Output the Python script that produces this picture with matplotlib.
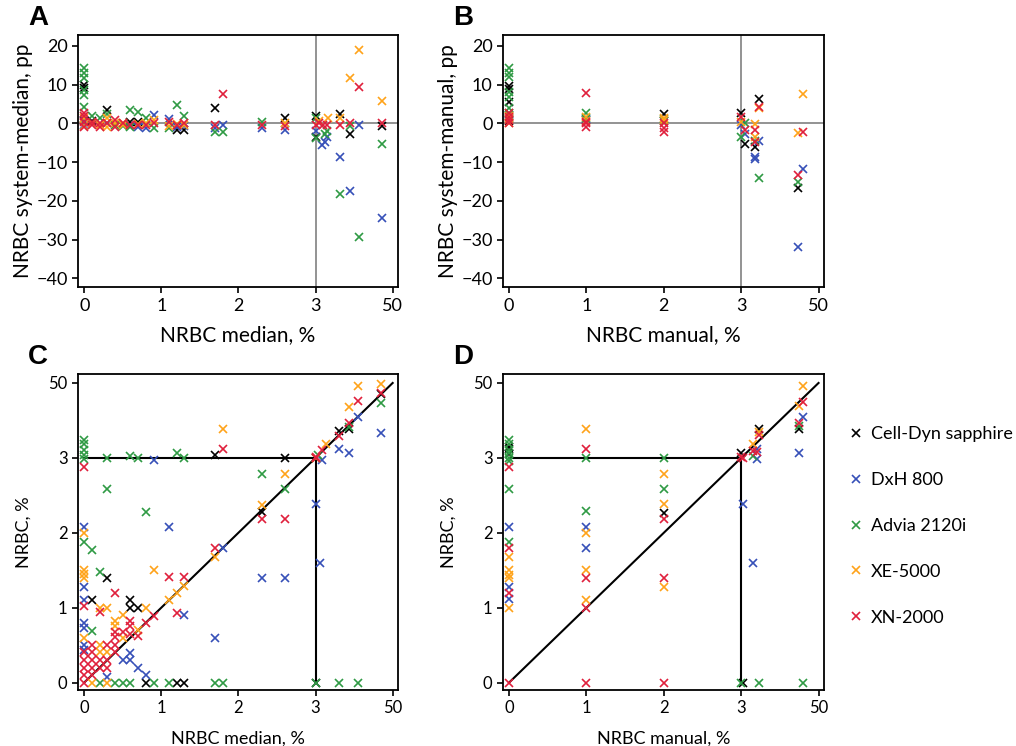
import numpy as np
import matplotlib
matplotlib.use('Agg')
import matplotlib.pyplot as plt

# NRBC comparison of 5 analysers vs. median / manual count
# x axis (and y axis in C, D) is linear 0-3 % and squeezed 3-50 % into one unit

instruments = ['Cell-Dyn sapphire', 'DxH 800', 'Advia 2120i', 'XE-5000', 'XN-2000']
colors = ['black', '#3650b8', '#2f9a44', '#ffa31a', '#e0203c']

# ---- panel A : system - median (pp) vs median (%)
a_black_x = [0, 0, 0, 0.1, 0.3, 0.6, 0.7, 1.2, 1.3, 1.7, 2.6, 3.0, 3.0, 18, 23.8, 43.3]
a_black_y = [9.9, 9.1, 0.5, 0.5, 3.5, 0.4, 0.4, -1.7, -1.7, 3.9, 1.3, 1.9, -3.6, 2.4, -2.8, -0.6]
a_blue_x = [0, 0, 0.1, 0.3, 0.5, 0.6, 0.7, 0.8, 0.9, 1.1, 1.2, 1.3, 1.7, 1.8, 2.3, 2.6,
            3.5, 6.8, 8.6, 10, 18, 23.8, 29.3, 43.3]
a_blue_y = [0.8, -0.3, 0, 0, -0.3, -0.5, -0.9, -1.3, 2.2, 1.1, -0.9, -0.7, -1.3, -0.3, -1.3, -1.7,
            -2, -5.6, -4.7, -3.6, -8.6, -17.4, -0.4, -24.4]
a_green_x = [0, 0, 0, 0, 0, 0, 0.1, 0.2, 0.3, 0.4, 0.5, 0.6, 0.6, 0.7, 0.8, 0.9, 1.1, 1.2, 1.3,
             1.7, 1.8, 2.3, 3.0, 3.5, 8.6, 10, 18, 23.8, 29.3, 43.3]
a_green_y = [14.2, 13, 11.7, 8.6, 7.3, 4.3, 1.9, 1.3, 2.5, -0.5, -0.8, 3.5, -0.9, 3.0, 1.3, -1.3, -1.3, 4.7, 1.9,
             -2.2, -2.2, 0.4, 1.5, -3.9, -2.8, -2, -18.3, -0.6, -29.4, -5.4]
a_orange_x = [0, 0, 0.1, 0.2, 0.3, 0.3, 0.4, 0.5, 0.5, 0.7, 0.8, 0.9, 1.1, 1.2, 1.3, 2.6,
              5.4, 10.5, 18, 23.8, 29.3, 43.3]
a_orange_y = [1.3, -0.7, 0, -0.3, 1.3, -0.9, 0, 0, -0.4, -0.2, 0, 0.9, -0.7, -0.2, -0.3, 0,
              0.5, 1.3, 1.3, 11.8, 19, 5.8]
a_red_x = [0, 0, 0, 0, 0.1, 0.1, 0.2, 0.2, 0.3, 0.4, 0.4, 0.5, 0.6, 0.7, 0.8, 0.9, 1.1, 1.2, 1.3,
           1.7, 1.8, 2.3, 2.6, 3.0, 5.4, 7.7, 10, 18, 23.8, 29.3, 43.3]
a_red_y = [2.6, 1.8, 0.4, -0.9, 0.4, -0.5, 0, -0.9, 0, 0.9, -0.9, 0.2, -0.4, -0.3, -0.4, 0, 0.4, -0.3, 0,
           -0.4, 7.5, -0.4, -0.7, -0.5, 0, -0.3, -0.5, -0.4, 0, 9.5, 0]

# ---- panel B : system - manual (pp) vs manual (%)
b_black_x = [0, 0, 0, 0, 2, 3, 5.4, 11.5, 13.8, 37.3]
b_black_y = [9.7, 8.8, 5.4, 0.5, 2.3, 2.8, -5.4, -6, 6.3, -16.8]
b_blue_x = [0, 0, 0, 1, 1, 3, 5.4, 11.5, 11.5, 13.8, 37.3, 40.6]
b_blue_y = [2.1, 1.3, 1.1, 1.1, 0.8, -0.4, -2.8, -8.6, -9.2, -4.5, -31.8, -11.9]
b_green_x = [0, 0, 0, 0, 0, 0, 0, 0, 1, 1, 2, 2, 3, 5.4, 11.5, 13.8, 37.3]
b_green_y = [14.2, 13.1, 11.9, 8.2, 6.9, 3.9, 2.6, 1.9, 2.6, 1.3, 1.0, 0.6, -3.5, 0, -4.5, -14.1, -15.1]
b_orange_x = [0, 0, 0, 0, 0, 1, 1, 2, 2, 3, 11.5, 11.5, 13.8, 37.3, 40.6]
b_orange_y = [2.0, 1.7, 1.5, 1.0, 0.2, 1.6, 0.5, 1.3, 0.8, 0.4, -0.2, -3.5, 3.9, -2.4, 7.5]
b_red_x = [0, 0, 0, 0, 1, 1, 1, 1, 2, 2, 2, 3, 5.4, 11.5, 11.5, 13.8, 37.3, 40.6]
b_red_y = [2.6, 1.7, 0.9, 0, 7.9, 0.4, 0, -1.0, 0, -1.3, -2.2, 1.7, -1.7, -1.6, -4.7, 4.3, -13.4, -2.2]

# ---- panel C : system (%) vs median (%)
c_black_x = [0.1, 0.3, 0.6, 0.6, 0.7, 0.8, 1.2, 1.3, 1.7, 2.3, 2.6, 3.0, 3.0, 17.6, 23.2, 43]
c_black_y = [1.1, 1.4, 1.1, 1.0, 1.0, 0, 0, 0, 4.9, 2.28, 3.0, 3.0, 0, 19.9, 20.9, 43]
c_blue_x = [0, 0, 0, 0, 0, 0, 0, 0.3, 0.5, 0.6, 0.6, 0.7, 0.8, 0.9, 1.1, 1.3, 1.7, 1.8, 2.3, 2.6,
            3.0, 5.6, 7.2, 17.6, 23.2, 28.9, 43]
c_blue_y = [2.08, 1.28, 1.1, 0.8, 0.73, 0.5, 0.44, 0.08, 0.3, 0.39, 0.3, 0.19, 0.1, 2.97, 2.08, 0.9, 0.6, 1.79,
            1.4, 1.4, 2.38, 1.6, 2.97, 8.6, 5.8, 28.4, 18.5]
c_green_x = [0, 0, 0, 0, 0, 0, 0.1, 0.1, 0.2, 0.2, 0.3, 0.3, 0.4, 0.5, 0.6, 0.6, 0.7, 0.8, 0.9, 1.1,
             1.2, 1.3, 1.7, 1.8, 2.3, 2.6, 3.0, 3.0, 4.4, 17.6, 23.2, 28.9, 43]
c_green_y = [14.3, 11.5, 8.2, 4.9, 2.98, 1.88, 1.77, 0.69, 1.48, 0, 3.0, 2.58, 0, 0, 3.9, 0, 3.0, 2.28, 0, 0,
             5.8, 3.0, 0, 0, 2.78, 2.58, 0, 3.0, 4.6, 0, 22.3, 0, 37.3]
c_orange_x = [0, 0, 0, 0, 0, 0.1, 0.2, 0.2, 0.2, 0.3, 0.3, 0.3, 0.4, 0.4, 0.5, 0.5, 0.7, 0.8, 0.9, 1.1,
              1.2, 1.3, 1.7, 1.8, 2.3, 2.6, 3.0, 9.1, 23.2, 28.9, 43]
c_orange_y = [2.0, 1.5, 1.45, 1.4, 0.6, 0, 1.0, 0.5, 0.41, 1.0, 0.41, 0, 0.82, 0.75, 0.9, 0.6, 0.7, 1.0, 1.5, 1.1,
              1.19, 1.29, 1.68, 20.9, 2.37, 2.78, 3.0, 11.5, 35, 48.1, 49.1]
c_red_x = [0, 0, 0, 0, 0, 0, 0, 0.1, 0.1, 0.1, 0.1, 0.1, 0.2, 0.2, 0.2, 0.3, 0.3, 0.3, 0.4, 0.4, 0.4, 0.4,
           0.4, 0.5, 0.6, 0.6, 0.6, 0.7, 0.8, 0.9, 1.1, 1.2, 1.3, 1.7, 1.8, 2.3, 2.6, 3.0, 3.5, 7.2,
           17.6, 23.2, 28.9, 43]
c_red_y = [2.88, 1.02, 0.41, 0.3, 0.19, 0.1, 0, 0.5, 0.41, 0.3, 0.19, 0.1, 0.94, 0.3, 0.19, 0.5, 0.3, 0.19,
           1.19, 0.68, 0.61, 0.5, 0.41, 0.68, 0.82, 0.75, 0.65, 0.62, 0.8, 0.89, 1.41, 0.93, 1.41, 1.79, 8.6,
           2.18, 2.18, 3.0, 3.6, 8.2, 16.6, 24.6, 38.7, 43.9]

# ---- panel D : system (%) vs manual (%)
d_black_x = [0, 0, 0, 2, 3, 4.4, 13.8, 38.3]
d_black_y = [9.7, 8.8, 5.4, 2.27, 5.8, 0, 20.9, 20.9]
d_blue_x = [0, 0, 0, 1, 1, 4.4, 10, 12.4, 12.4, 38.3, 40.6]
d_blue_y = [2.08, 1.27, 1.11, 2.08, 1.79, 2.38, 1.6, 8.6, 2.98, 5.8, 28.6]
d_green_x = [0, 0, 0, 0, 0, 0, 0, 0, 1, 1, 2, 2, 3, 10, 13.8, 38.3, 40.6]
d_green_y = [14.3, 11.5, 8.2, 5.8, 3.0, 2.96, 2.58, 1.88, 3.0, 2.29, 3.0, 2.58, 0, 3.9, 0, 22.7, 0]
d_orange_x = [0, 0, 0, 0, 0, 1, 1, 1, 1, 2, 2, 2, 10, 13.8, 38.3, 40.6]
d_orange_y = [1.68, 1.5, 1.44, 1.39, 1.0, 20.9, 2.0, 1.5, 1.1, 2.78, 2.38, 1.27, 11.5, 19, 35.4, 48.1]
d_red_x = [0, 0, 0, 0, 1, 1, 1, 1, 2, 2, 2, 3, 4.4, 10, 12.4, 13.8, 38.3, 40.6]
d_red_y = [2.88, 1.79, 1.19, 0, 8.6, 1.39, 1.0, 0, 2.18, 1.39, 0, 3.5, 3.0, 7.2, 6.8, 17.6, 25.1, 38.3]

nrbc_ticks = [0, 1, 2, 3, 50]
diff_ticks = [-40, -30, -20, -10, 0, 10, 20]


def fwd(v):
    v = np.asarray(v, dtype=float)
    return np.where(v <= 3, v, 3 + (v - 3) / 47.0)


def inv(p):
    p = np.asarray(p, dtype=float)
    return np.where(p <= 3, p, 3 + (p - 3) * 47.0)


plt.rcParams['font.family'] = ['Lato', 'DejaVu Sans']

fig = plt.figure(figsize=(10.16, 7.46), dpi=100)
axA = fig.add_axes([0.0768, 0.615, 0.315, 0.338])
axB = fig.add_axes([0.495, 0.615, 0.316, 0.338])
axC = fig.add_axes([0.0768, 0.075, 0.315, 0.4236])
axD = fig.add_axes([0.495, 0.075, 0.316, 0.4236])

panels = {
    axA: [(a_black_x, a_black_y), (a_blue_x, a_blue_y), (a_green_x, a_green_y),
          (a_orange_x, a_orange_y), (a_red_x, a_red_y)],
    axB: [(b_black_x, b_black_y), (b_blue_x, b_blue_y), (b_green_x, b_green_y),
          (b_orange_x, b_orange_y), (b_red_x, b_red_y)],
    axC: [(c_black_x, c_black_y), (c_blue_x, c_blue_y), (c_green_x, c_green_y),
          (c_orange_x, c_orange_y), (c_red_x, c_red_y)],
    axD: [(d_black_x, d_black_y), (d_blue_x, d_blue_y), (d_green_x, d_green_y),
          (d_orange_x, d_orange_y), (d_red_x, d_red_y)],
}

handles = []
for ax, series in panels.items():
    ax.set_xscale('function', functions=(fwd, inv))
    for (xs, ys), col, name in zip(series, colors, instruments):
        h, = ax.plot(xs, ys, linestyle='none', marker='x', color=col, markersize=5.5,
                     markeredgewidth=1.2, label=name, zorder=3)
        if ax is axD:
            handles.append(h)
    ax.set_xlim(-0.08, 53.3)
    ax.set_xticks(nrbc_ticks)
    ax.set_xticklabels([str(t) for t in nrbc_ticks])
    for s in ax.spines.values():
        s.set_linewidth(1.3)
    ax.tick_params(width=1.2, length=4)

# top row: differences
for ax, xl, yl in [(axA, 'NRBC median, %', 'NRBC system-median, pp'),
                   (axB, 'NRBC manual, %', 'NRBC system-manual, pp')]:
    ax.axhline(0, color='grey', lw=1.2, zorder=1)
    ax.axvline(3, color='grey', lw=1.2, zorder=1)
    ax.set_ylim(-42.3, 22.8)
    ax.set_yticks(diff_ticks)
    ax.tick_params(labelsize=13)
    ax.set_xlabel(xl, fontsize=15, labelpad=8)
    ax.set_ylabel(yl, fontsize=15, labelpad=2)

# bottom row: absolute values, same squeezed scale on y
for ax, xl in [(axC, 'NRBC median, %'), (axD, 'NRBC manual, %')]:
    ax.set_yscale('function', functions=(fwd, inv))
    ax.plot([0, 3, 50], [0, 3, 50], color='black', lw=1.5, zorder=2)
    ax.plot([0, 3], [3, 3], color='black', lw=1.5, zorder=2)
    ax.plot([3, 3], [0, 3], color='black', lw=1.5, zorder=2)
    ax.set_ylim(-0.1, 55.6)
    ax.set_yticks(nrbc_ticks)
    ax.set_yticklabels([str(t) for t in nrbc_ticks])
    ax.tick_params(labelsize=12)
    ax.set_xlabel(xl, fontsize=13, labelpad=10)
    ax.set_ylabel('NRBC, %', fontsize=13, labelpad=12)

for ax, letter in [(axA, 'A'), (axB, 'B'), (axC, 'C'), (axD, 'D')]:
    pos = ax.get_position()
    fig.text(pos.x0 - 0.049, pos.y1 + 0.006, letter, fontsize=20, fontweight='bold',
             family='Liberation Sans', ha='left', va='bottom')

fig.legend(handles=handles, loc='center left', bbox_to_anchor=(0.8376, 0.295),
           frameon=False, fontsize=13, handlelength=0.6, handletextpad=0.5,
           labelspacing=1.65, borderpad=0, borderaxespad=0)

fig.savefig('out.png', dpi=100)
